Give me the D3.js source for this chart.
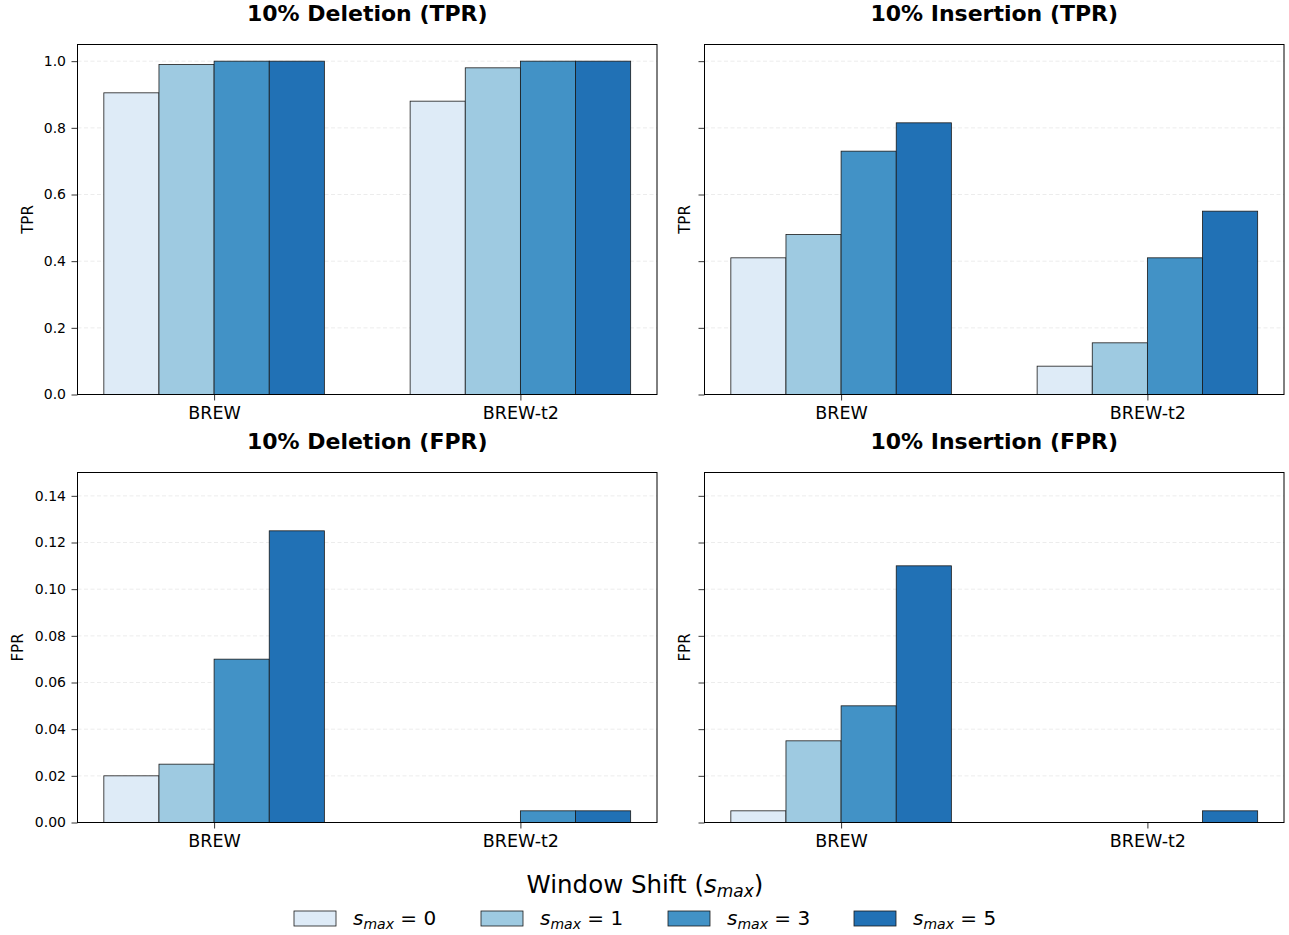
<!DOCTYPE html>
<html>
<head>
<meta charset="utf-8">
<script src="https://cdn.jsdelivr.net/npm/d3@7"></script>
<style>
body { margin: 0; background: #fff; }
svg text { font-family: "DejaVu Sans", sans-serif; }
</style>
</head>
<body>
<div id="chart"></div>
<script>
var categories = ["BREW", "BREW-t2"];
var shifts = [0, 1, 3, 5];
var colors = ["#deebf7", "#9ecae1", "#4292c6", "#2171b5"];

// values per shift, [BREW, BREW-t2]
var delTPR = [[0.905, 0.88], [0.99, 0.98], [1.0, 1.0], [1.0, 1.0]];
var insTPR = [[0.41, 0.085], [0.48, 0.155], [0.73, 0.41], [0.815, 0.55]];
var delFPR = [[0.02, 0], [0.025, 0], [0.07, 0.005], [0.125, 0.005]];
var insFPR = [[0.005, 0], [0.035, 0], [0.05, 0], [0.11, 0.005]];

var tprTicks = [0, 0.2, 0.4, 0.6, 0.8, 1.0];
var fprTicks = [0, 0.02, 0.04, 0.06, 0.08, 0.10, 0.12, 0.14];

var W = 1289, H = 935;
var svg = d3.select("#chart").append("svg")
    .attr("width", W).attr("height", H);

var panels = [
    { title: "10% Deletion (TPR)", data: delTPR, ylab: "TPR", ticks: tprTicks, ymax: 1.05, fmt: d3.format(".1f"), x0: 77.5, y0: 44.5, labels: true },
    { title: "10% Insertion (TPR)", data: insTPR, ylab: "TPR", ticks: tprTicks, ymax: 1.05, fmt: d3.format(".1f"), x0: 704.5, y0: 44.5, labels: false },
    { title: "10% Deletion (FPR)", data: delFPR, ylab: "FPR", ticks: fprTicks, ymax: 0.15, fmt: d3.format(".2f"), x0: 77.5, y0: 472.5, labels: true },
    { title: "10% Insertion (FPR)", data: insFPR, ylab: "FPR", ticks: fprTicks, ymax: 0.15, fmt: d3.format(".2f"), x0: 704.5, y0: 472.5, labels: false }
];
var pw = 579.5, ph = 350;
var barW = 0.18;

panels.forEach(function (p) {
    var g = svg.append("g").attr("transform", "translate(" + p.x0 + "," + p.y0 + ")");

    var x = d3.scaleLinear().domain([-0.446, 1.446]).range([0, pw]);
    var y = d3.scaleLinear().domain([0, p.ymax]).range([ph, 0]);

    // grid
    g.append("g").selectAll("line")
        .data(p.ticks)
        .enter().append("line")
        .attr("x1", 0).attr("x2", pw)
        .attr("y1", d => y(d)).attr("y2", d => y(d))
        .attr("stroke", "#b0b0b0")
        .attr("stroke-opacity", 0.3)
        .attr("stroke-dasharray", "4,2.5")
        .attr("stroke-width", 0.8);

    // bars
    p.data.forEach(function (vals, i) {
        g.append("g").selectAll("rect")
            .data(vals)
            .enter().append("rect")
            .attr("x", (d, j) => x(j + (i - 1.5) * barW - barW / 2))
            .attr("width", x(barW) - x(0))
            .attr("y", d => y(d))
            .attr("height", d => y(0) - y(d))
            .attr("fill", colors[i])
            .attr("stroke", "#1a1a1a")
            .attr("stroke-width", 0.8);
    });

    // y axis
    var yAxis = d3.axisLeft(y).tickValues(p.ticks).tickSize(6).tickPadding(5.5)
        .tickFormat(p.labels ? p.fmt : "");
    var ya = g.append("g").call(yAxis);
    ya.select(".domain").remove();
    ya.selectAll("text").attr("font-size", "14px").attr("fill", "#000")
        .attr("font-family", "DejaVu Sans, sans-serif");
    ya.selectAll("line").attr("stroke", "#000").attr("stroke-width", 0.8);

    // x axis
    var xAxis = d3.axisBottom(x).tickValues([0, 1]).tickSize(6).tickPadding(6)
        .tickFormat(d => categories[d]);
    var xa = g.append("g").attr("transform", "translate(0," + ph + ")").call(xAxis);
    xa.select(".domain").remove();
    xa.selectAll("text").attr("font-size", "17.5px").attr("fill", "#000")
        .attr("font-family", "DejaVu Sans, sans-serif");
    xa.selectAll("line").attr("stroke", "#000").attr("stroke-width", 0.8);

    // frame
    g.append("rect")
        .attr("width", pw).attr("height", ph)
        .attr("fill", "none").attr("stroke", "#000").attr("stroke-width", 1);

    // title
    g.append("text")
        .attr("x", pw / 2).attr("y", -24)
        .attr("text-anchor", "middle")
        .attr("font-size", "22px").attr("font-weight", "bold")
        .text(p.title);

    // y label
    var lx = p.labels ? (p.ylab === "TPR" ? -45 : -55) : -15;
    g.append("text")
        .attr("transform", "translate(" + lx + "," + (ph / 2) + ") rotate(-90)")
        .attr("text-anchor", "middle")
        .attr("font-size", "15px")
        .text(p.ylab);
});

// legend title
var lt = svg.append("text")
    .attr("x", 645).attr("y", 893)
    .attr("text-anchor", "middle")
    .attr("font-size", "24.5px");
lt.append("tspan").text("Window Shift (");
lt.append("tspan").attr("font-style", "italic").text("s");
lt.append("tspan").attr("font-style", "italic").attr("font-size", "17px").attr("dy", 4).text("max");
lt.append("tspan").attr("dy", -4).text(")");

var legX = [294, 481, 668, 854];
var leg = svg.append("g").selectAll("g")
    .data(shifts)
    .enter().append("g")
    .attr("transform", (d, i) => "translate(" + legX[i] + ",911)");
leg.append("rect")
    .attr("width", 42).attr("height", 15)
    .attr("fill", (d, i) => colors[i])
    .attr("stroke", "#1a1a1a").attr("stroke-width", 0.8);
var lab = leg.append("text")
    .attr("x", 59).attr("y", 14)
    .attr("font-size", "20px");
lab.append("tspan").attr("font-style", "italic").text("s");
lab.append("tspan").attr("font-style", "italic").attr("font-size", "14px").attr("dy", 4).text("max");
lab.append("tspan").attr("dy", -4).text(d => " = " + d);
</script>
</body>
</html>
